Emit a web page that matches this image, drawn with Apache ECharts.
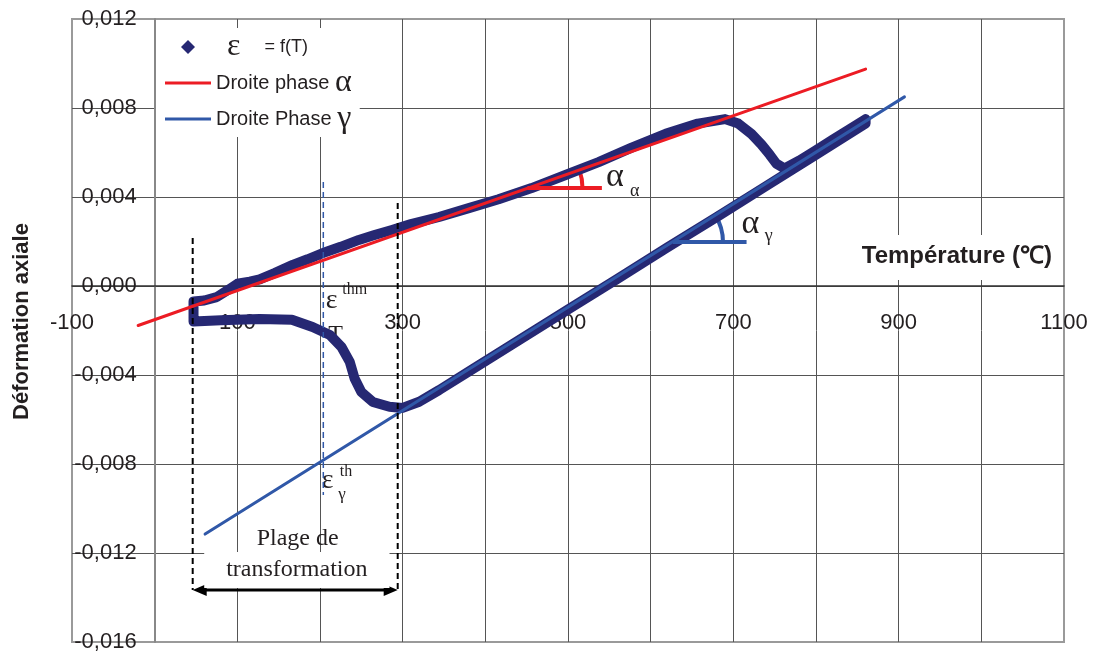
<!DOCTYPE html>
<html>
<head>
<meta charset="utf-8">
<title>Déformation axiale</title>
<script src="https://cdn.jsdelivr.net/npm/echarts@6/dist/echarts.min.js"></script>
<style>
  html, body { margin: 0; padding: 0; background: #fff; }
  #chart { width: 1093px; height: 657px; }
</style>
</head>
<body>
<div id="chart"></div>
<script>
  // courbe dilatométrique : chauffage puis refroidissement
  const heatT = [47, 47, 60, 75, 90, 100, 115, 127, 145, 167, 185, 207, 225, 247, 265, 287, 310, 344, 380, 416,
    456, 497, 537, 577, 618, 657, 690, 706, 722, 734, 744, 752, 762, 780, 800, 820, 840, 860];
  const heatE = [-0.0016, -0.0007, -0.00065, -0.0005, -0.00015, 0.0001, 0.0002, 0.0003, 0.00058, 0.00095,
    0.0012, 0.00153, 0.00176, 0.00207, 0.00228, 0.00252, 0.00278, 0.0031, 0.0035, 0.0039,
    0.0044, 0.00499, 0.00557, 0.00622, 0.00684, 0.0073, 0.0075, 0.0073, 0.00683, 0.00636,
    0.0059, 0.0055, 0.00528, 0.00564, 0.0061, 0.00657, 0.00703, 0.0075];
  const coolT = [860, 800, 740, 680, 620, 560, 500, 440, 380, 344, 320, 300, 284, 264, 250, 242, 236, 226, 212, 191,
    166, 127, 80, 47];
  const coolE = [0.0073, 0.0059, 0.0045, 0.0031, 0.00173, 0.00033, -0.00106, -0.00245, -0.00384, -0.00468,
    -0.0052, -0.00548, -0.00543, -0.00521, -0.00476, -0.00417, -0.00341, -0.00274, -0.0022, -0.00184,
    -0.00152, -0.00148, -0.00154, -0.0016];

  // droites des phases
  const alphaT = [-20, 860];
  const alphaE = [-0.001775, 0.00975];
  const gammaT = [61, 907];
  const gammaE = [-0.01115, 0.0085];

  // plage de transformation et repère epsilon thm
  const rangeT = [46, 294];
  const rangeTopE = [0.00216, 0.00373];
  const arrowE = -0.01366;
  const thmT = 204;
  const thmE = [0.00467, -0.00939];

  // angles des pentes
  const angleAlphaT = [451, 541];
  const angleAlphaE = 0.0044;
  const angleGammaT = [627, 716];
  const angleGammaE = 0.00198;

  const xTicks = [-100, 100, 300, 500, 700, 900, 1100];
  const xRange = [-100, 1100];
  const yRange = [-0.016, 0.012];

  const SANS = '"Liberation Sans", Arial, sans-serif';
  const SERIF = '"Liberation Serif", "Times New Roman", serif';
  const INK = '#231f20';
  const NAVY = '#262873';
  const RED = '#ec1c24';
  const BLUE = '#3058a8';

  // les axes se croisent en (0, 0) : décalage depuis le bord de la grille
  const grid = { left: 72, right: 29, top: 19, bottom: 15 };
  const plotW = 1093 - grid.left - grid.right;
  const plotH = 657 - grid.top - grid.bottom;
  const yAxisOffset = -plotW * (0 - xRange[0]) / (xRange[1] - xRange[0]);
  const xAxisOffset = -plotH * (0 - yRange[0]) / (yRange[1] - yRange[0]);

  const pairs = (xs, ys) => xs.map((x, i) => [x, ys[i]]);
  const curve = pairs(heatT, heatE).concat(pairs(coolT, coolE));

  const notes = [
    { at: [546, 0.00490], text: 'α', font: `34px ${SERIF}` },
    { at: [575, 0.00427], text: 'α', font: `18px ${SERIF}` },
    { at: [710, 0.00280], text: 'α', font: `34px ${SERIF}` },
    { at: [738, 0.00222], text: 'γ', font: `18px ${SERIF}` },
    { at: [207, -0.00064], text: 'ε', font: `28px ${SERIF}` },
    { at: [227, -0.00018], text: 'thm', font: `16px ${SERIF}` },
    { at: [210, -0.00220], text: 'T', font: `24px ${SERIF}` },
    { at: [202, -0.00877], text: 'ε', font: `28px ${SERIF}` },
    { at: [224, -0.00836], text: 'th', font: `16px ${SERIF}` },
    { at: [222, -0.00935], text: 'γ', font: `17px ${SERIF}` },
    { at: [173, -0.01137], text: 'Plage de', font: `24px ${SERIF}`, align: 'center' },
    { at: [172, -0.01276], text: 'transformation', font: `24px ${SERIF}`, align: 'center', bg: '#fff', pad: [16, 22, 0, 22] },
  ];

  const dashed = (name, data, color, width) => ({
    name,
    type: 'line',
    data,
    symbol: 'none',
    silent: true,
    color,
    lineStyle: { color, width, type: [6, 4] },
  });

  const arcSeries = (name, center, lineT, lineE, color, radius) => ({
    name,
    type: 'custom',
    silent: true,
    data: [[center[0], center[1], lineT[1], lineE[1]]],
    renderItem: (params, api) => {
      const c = api.coord([api.value(0), api.value(1)]);
      const p = api.coord([api.value(2), api.value(3)]);
      const ang = Math.atan2(p[1] - c[1], p[0] - c[0]);
      return {
        type: 'arc',
        shape: { cx: c[0], cy: c[1], r: radius, startAngle: ang, endAngle: 0, clockwise: true },
        style: { stroke: color, lineWidth: 4, fill: null },
      };
    },
  });

  const chart = echarts.init(document.getElementById('chart'));

  chart.setOption({
    backgroundColor: '#fff',
    animation: false,
    textStyle: { fontFamily: SANS },
    title: {
      text: 'Température (℃)',
      right: 33,
      top: 235,
      backgroundColor: '#fff',
      padding: [9, 8, 12, 8],
      textStyle: { fontFamily: SANS, fontSize: 24, fontWeight: 'bold', color: INK },
    },
    legend: {
      orient: 'vertical',
      left: 156,
      top: 28,
      padding: [3, 8, 2, 9],
      itemGap: 4,
      itemWidth: 46,
      itemHeight: 14,
      backgroundColor: '#fff',
      itemStyle: { borderWidth: 0 },
      data: [
        { name: 'ε = f(T)', icon: 'path://M7 0L14 7L7 14L0 7Z' },
        { name: 'Droite phase α', icon: 'path://M0 0h46v3H0z' },
        { name: 'Droite Phase γ', icon: 'path://M0 0h46v3H0z' },
      ],
      formatter: (name) => ({
        'ε = f(T)': '{g|ε}{t|= f(T)}',
        'Droite phase α': 'Droite phase {a|α}',
        'Droite Phase γ': 'Droite Phase {a|γ}',
      })[name],
      textStyle: {
        fontFamily: SANS,
        fontSize: 20,
        color: INK,
        rich: {
          g: { fontFamily: SERIF, fontSize: 32, color: INK, padding: [0, 24, 0, 11] },
          a: { fontFamily: SERIF, fontSize: 32, color: INK },
          t: { fontFamily: SANS, fontSize: 18, color: INK },
        },
      },
    },
    grid: {
      left: grid.left,
      right: grid.right,
      top: grid.top,
      bottom: grid.bottom,
      show: true,
      borderColor: '#9a9a9a',
      borderWidth: 2,
      outerBoundsMode: 'none',
    },
    xAxis: {
      type: 'value',
      min: xRange[0],
      max: xRange[1],
      interval: 100,
      position: 'bottom',
      offset: xAxisOffset,
      axisLine: { onZero: false, lineStyle: { color: '#333', width: 1.5 } },
      axisTick: { show: false },
      axisLabel: {
        margin: 26,
        fontSize: 22,
        color: INK,
        fontFamily: SANS,
        showMinLabel: true,
        showMaxLabel: true,
        formatter: (v) => (xTicks.includes(v) ? String(v) : ''),
      },
      splitLine: { show: true, showMinLine: false, showMaxLine: false, lineStyle: { color: '#555', width: 1 } },
    },
    yAxis: {
      type: 'value',
      min: yRange[0],
      max: yRange[1],
      interval: 0.004,
      position: 'left',
      offset: yAxisOffset,
      name: 'Déformation axiale',
      nameLocation: 'middle',
      nameGap: 122,
      nameTextStyle: { fontFamily: SANS, fontSize: 22, fontWeight: 'bold', color: INK, padding: [0, 0, 0, 18] },
      axisLine: { onZero: false, lineStyle: { color: '#888', width: 2 } },
      axisTick: { show: false },
      axisLabel: {
        margin: 18,
        fontSize: 22,
        color: INK,
        fontFamily: SANS,
        formatter: (v) => v.toFixed(3).replace('.', ','),
      },
      splitLine: { show: true, showMinLine: false, showMaxLine: false, lineStyle: { color: '#555', width: 1 } },
    },
    series: [
      {
        name: 'ε = f(T)',
        type: 'line',
        data: curve,
        symbol: 'none',
        color: NAVY,
        lineStyle: { color: NAVY, width: 10, cap: 'round', join: 'round' },
      },
      {
        name: 'Droite phase α',
        type: 'line',
        data: pairs(alphaT, alphaE),
        symbol: 'none',
        color: RED,
        lineStyle: { color: RED, width: 3, cap: 'round' },
      },
      {
        name: 'Droite Phase γ',
        type: 'line',
        data: pairs(gammaT, gammaE),
        symbol: 'none',
        color: BLUE,
        lineStyle: { color: BLUE, width: 3, cap: 'round' },
      },
      dashed('borne début', [[rangeT[0], rangeTopE[0]], [rangeT[0], arrowE]], '#000', 2),
      dashed('borne fin', [[rangeT[1], rangeTopE[1]], [rangeT[1], arrowE]], '#000', 2),
      dashed('thm', [[thmT, thmE[0]], [thmT, thmE[1]]], BLUE, 1.5),
      {
        name: 'pente α',
        type: 'line',
        data: [[angleAlphaT[0], angleAlphaE], [angleAlphaT[1], angleAlphaE]],
        symbol: 'none',
        silent: true,
        lineStyle: { color: RED, width: 4 },
      },
      {
        name: 'pente γ',
        type: 'line',
        data: [[angleGammaT[0], angleGammaE], [angleGammaT[1], angleGammaE]],
        symbol: 'none',
        silent: true,
        lineStyle: { color: BLUE, width: 4 },
      },
      arcSeries('arc α', [angleAlphaT[0], angleAlphaE], alphaT, alphaE, RED, 55),
      arcSeries('arc γ', [angleGammaT[0], angleGammaE], gammaT, gammaE, BLUE, 50),
      {
        name: 'plage',
        type: 'custom',
        silent: true,
        data: [[rangeT[0], arrowE, rangeT[1]]],
        renderItem: (params, api) => {
          const a = api.coord([api.value(0), api.value(1)]);
          const b = api.coord([api.value(2), api.value(1)]);
          const len = 14;
          const half = 6;
          return {
            type: 'group',
            children: [
              { type: 'line', shape: { x1: a[0] + len - 2, y1: a[1], x2: b[0] - len + 2, y2: b[1] }, style: { stroke: '#000', lineWidth: 3 } },
              { type: 'polygon', shape: { points: [[a[0], a[1]], [a[0] + len, a[1] - half], [a[0] + len, a[1] + half]] }, style: { fill: '#000' } },
              { type: 'polygon', shape: { points: [[b[0], b[1]], [b[0] - len, b[1] - half], [b[0] - len, b[1] + half]] }, style: { fill: '#000' } },
            ],
          };
        },
      },
      {
        name: 'notes',
        type: 'custom',
        silent: true,
        data: notes.map((n) => n.at),
        renderItem: (params, api) => {
          const n = notes[params.dataIndex];
          const p = api.coord([api.value(0), api.value(1)]);
          return {
            type: 'text',
            x: p[0],
            y: p[1],
            style: {
              text: n.text,
              font: n.font,
              fill: INK,
              align: n.align || 'left',
              verticalAlign: 'middle',
              lineHeight: 20,
              backgroundColor: n.bg,
              padding: n.pad,
            },
          };
        },
      },
    ],
  });
</script>
</body>
</html>
